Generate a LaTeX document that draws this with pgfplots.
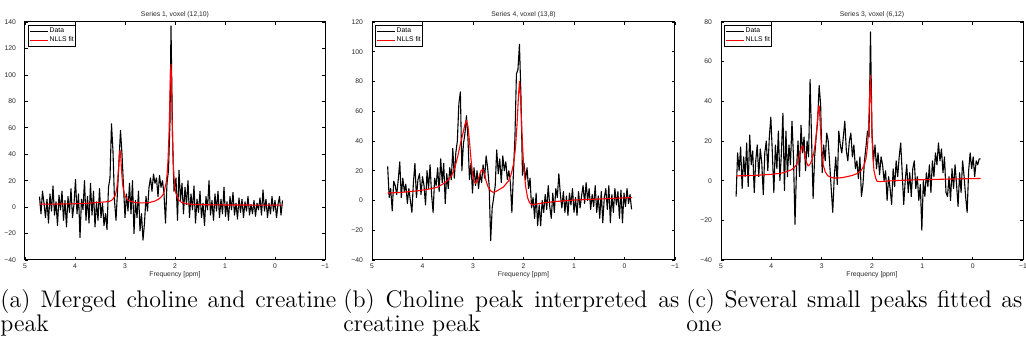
\documentclass[border=0pt]{standalone}
\usepackage{fontspec}
\usepackage{pgfplots}
\pgfplotsset{compat=1.18}
\newfontfamily\sansf{Liberation Sans}
\newcommand\tinyf{\sansf\fontsize{3.4}{4}\selectfont}
\pgfplotsset{
  mat/.style={
    scale only axis, height=119pt,
    x dir=reverse, xmin=-1, xmax=5, ymin=-40,
    xtick={5,4,3,2,1,0,-1}, xticklabels={5,4,3,2,1,0,−1},
    tick align=inside, major tick length=1.5pt,
    tick style={black, line width=0.35pt},
    axis line style={black, line width=0.5pt},
    ticklabel style={font=\tinyf, text=black!85},
    xticklabel style={inner sep=0pt, yshift=-1.9pt},
    yticklabel style={xshift=-1pt},
    every axis title/.style={at={(0.5,1)}, anchor=base, yshift=2.7pt, font=\tinyf, text=black!85, inner sep=0.3pt},
    every axis x label/.style={at={(0.5,0)}, anchor=base, yshift=-8.5pt, font=\tinyf, text=black!85, inner sep=0.2pt},
    xlabel={Frequency [ppm]},
    legend cell align=left,
    legend style={at={(0,1)}, anchor=north west, xshift=1.5pt, yshift=-1.5pt, font=\tinyf, draw=black, line width=0.7pt, inner sep=0.5pt, nodes={inner sep=0.45pt}, row sep=-0.3pt},
    legend image code/.code={\draw[#1] (0pt,0pt) -- (9pt,0pt);},
  },
  dat/.style={black, line width=0.55pt, line join=round, mark=none},
  fitc/.style={red, line width=0.55pt, line join=round, mark=none},
}
\begin{document}
\begin{tikzpicture}
\useasboundingbox (0,0) rectangle (513pt,173.5pt);
\clip (0,0) rectangle (513pt,173.5pt);
% ---------- panel (a)
\begin{axis}[mat, at={(12.5pt,43.5pt)}, anchor=south west, width=150pt, ymax=140,
  ytick={-40,-20,...,140}, yticklabels={−40,−20,0,20,40,60,80,100,120,140},
  title={Series 1, voxel (12,10)}]
\addplot[dat] coordinates {(4.71,8)(4.68,-5)(4.65,12)(4.62,3)(4.59,-8)(4.56,6)(4.53,-12)(4.50,10)(4.47,-3)(4.44,16)(4.41,-6)(4.38,4)(4.35,-14)(4.32,9)(4.29,-2)(4.26,12)(4.23,-10)(4.20,5)(4.17,-15)(4.14,8)(4.11,-4)(4.08,14)(4.05,-8)(4.02,2)(3.99,21)(3.96,-5)(3.93,10)(3.90,-23)(3.87,6)(3.84,-2)(3.81,20)(3.78,-10)(3.75,8)(3.72,-12)(3.69,18)(3.66,-6)(3.63,12)(3.60,-15)(3.57,4)(3.54,-10)(3.51,14)(3.48,-8)(3.45,3)(3.42,-14)(3.39,-5)(3.36,-17)(3.33,15)(3.30,22)(3.27,63)(3.24,42)(3.21,5)(3.18,-10)(3.15,12)(3.12,35)(3.09,58)(3.06,40)(3.03,16)(3.00,-8)(2.97,10)(2.94,-3)(2.91,18)(2.88,-5)(2.85,20)(2.82,-20)(2.79,5)(2.76,-8)(2.73,12)(2.70,-18)(2.67,-5)(2.64,-25)(2.61,-12)(2.58,8)(2.55,-3)(2.52,15)(2.49,22)(2.46,12)(2.43,25)(2.40,18)(2.37,22)(2.34,8)(2.31,24)(2.28,15)(2.25,20)(2.22,10)(2.19,-12)(2.16,18)(2.13,28)(2.10,65)(2.08,137)(2.05,55)(2.02,12)(1.98,22)(1.95,-10)(1.92,28)(1.89,5)(1.86,18)(1.83,-5)(1.80,15)(1.77,2)(1.74,20)(1.71,-8)(1.68,10)(1.65,-2)(1.62,16)(1.59,-12)(1.56,6)(1.53,-4)(1.50,12)(1.47,-8)(1.44,3)(1.41,-14)(1.38,8)(1.35,-2)(1.32,20)(1.29,-6)(1.26,5)(1.23,-10)(1.20,10)(1.17,-3)(1.14,12)(1.11,-8)(1.08,6)(1.05,-5)(1.02,15)(0.99,-7)(0.96,4)(0.93,-10)(0.90,8)(0.87,-2)(0.84,11)(0.81,-6)(0.78,3)(0.75,-9)(0.72,7)(0.69,-4)(0.66,6)(0.63,-8)(0.60,4)(0.57,-3)(0.54,8)(0.51,-6)(0.48,2)(0.45,-5)(0.42,5)(0.39,-7)(0.36,3)(0.33,-2)(0.30,7)(0.27,-6)(0.24,13)(0.21,-3)(0.18,6)(0.15,-8)(0.12,3)(0.09,-5)(0.06,8)(0.03,-3)(0.00,5)(-0.03,-8)(-0.06,2)(-0.09,8)(-0.12,-6)(-0.15,5)};
\addlegendentry{Data}
\addplot[fitc] coordinates {(4.71,2.2)(4.4,2.3)(4.0,2.5)(3.7,3)(3.55,3.5)(3.45,3.8)(3.35,4.1)(3.30,4.5)(3.25,5.6)(3.20,8.5)(3.18,11)(3.16,15.3)(3.15,18.6)(3.14,23)(3.13,28.6)(3.12,35)(3.11,40.6)(3.10,43)(3.09,40.6)(3.08,35)(3.07,28.6)(3.06,23)(3.05,18.6)(3.04,15.3)(3.02,11)(3.00,8.5)(2.95,5.6)(2.90,4.5)(2.80,3.5)(2.70,3.2)(2.60,3.2)(2.50,3.6)(2.40,4.6)(2.33,6)(2.28,7.5)(2.23,10)(2.18,17.5)(2.16,24)(2.14,35)(2.12,55)(2.11,70)(2.10,87)(2.09,101)(2.08,108)(2.07,96)(2.06,74)(2.05,54)(2.04,39)(2.03,29)(2.02,22.5)(2.00,14.5)(1.98,10.2)(1.93,5.5)(1.88,3.8)(1.78,2.5)(1.6,1.9)(1.0,1.6)(-0.15,1.5)};
\addlegendentry{NLLS fit}
\end{axis}
% ---------- panel (b)
\begin{axis}[mat, at={(186pt,43.5pt)}, anchor=south west, width=151.5pt, ymax=120,
  ytick={-40,-20,...,120}, yticklabels={−40,−20,0,20,40,60,80,100,120},
  title={Series 4, voxel (13,8)}]
\addplot[dat] coordinates {(4.69,23)(4.66,2)(4.63,8)(4.60,-7)(4.57,13)(4.54,10)(4.51,4)(4.48,14)(4.45,26)(4.42,2)(4.39,15)(4.36,6)(4.33,11)(4.30,-2)(4.27,8)(4.24,0)(4.21,-8)(4.18,12)(4.15,25)(4.12,2)(4.09,14)(4.06,18)(4.03,4)(4.00,16)(3.97,10)(3.94,-3)(3.91,20)(3.88,8)(3.85,24)(3.82,4)(3.79,-8)(3.76,15)(3.73,10)(3.70,22)(3.67,6)(3.64,28)(3.61,12)(3.58,25)(3.55,-2)(3.52,18)(3.49,8)(3.46,22)(3.43,14)(3.40,35)(3.37,15)(3.34,32)(3.31,40)(3.28,65)(3.25,73)(3.22,20)(3.19,38)(3.16,45)(3.13,57)(3.10,42)(3.07,14)(3.04,25)(3.01,5)(2.98,22)(2.95,10)(2.92,20)(2.89,8)(2.86,18)(2.83,12)(2.80,24)(2.77,15)(2.74,30)(2.71,22)(2.68,10)(2.65,-27)(2.62,-5)(2.59,2)(2.56,10)(2.53,34)(2.50,18)(2.47,28)(2.44,12)(2.41,30)(2.38,20)(2.35,26)(2.32,14)(2.29,20)(2.26,12)(2.23,-8)(2.20,18)(2.17,42)(2.14,85)(2.11,88)(2.08,105)(2.05,70)(2.02,17)(1.99,25)(1.96,14)(1.93,22)(1.90,8)(1.87,15)(1.84,-5)(1.81,2)(1.78,-12)(1.75,5)(1.72,-17)(1.69,-3)(1.66,-17)(1.63,0)(1.60,-8)(1.57,4)(1.54,-6)(1.51,10)(1.48,-4)(1.45,-12)(1.42,5)(1.39,-8)(1.36,8)(1.33,2)(1.30,18)(1.27,4)(1.24,-5)(1.21,6)(1.18,-8)(1.15,3)(1.12,-10)(1.09,5)(1.06,-3)(1.03,8)(1.00,-8)(0.97,2)(0.94,-10)(0.91,6)(0.88,-5)(0.85,3)(0.82,10)(0.79,-2)(0.76,12)(0.73,0)(0.70,8)(0.67,-6)(0.64,4)(0.61,-4)(0.58,10)(0.55,-8)(0.52,3)(0.49,-12)(0.46,6)(0.43,-15)(0.40,2)(0.37,8)(0.34,-6)(0.31,10)(0.28,-15)(0.25,4)(0.22,-8)(0.19,8)(0.16,-3)(0.13,6)(0.10,-12)(0.07,7)(0.04,-15)(0.01,5)(-0.02,-4)(-0.05,8)(-0.08,-2)(-0.11,4)(-0.14,-6)};
\addlegendentry{Data}
\addplot[fitc] coordinates {(4.69,5)(4.4,5.5)(4.1,6.5)(3.9,7.5)(3.7,9)(3.6,11)(3.5,13.5)(3.42,17)(3.36,22)(3.3,30)(3.25,38)(3.2,45)(3.16,51)(3.13,54)(3.10,50)(3.07,40)(3.04,28)(3.01,18)(2.98,13)(2.95,11.5)(2.92,13)(2.88,16)(2.84,20)(2.81,21)(2.78,19)(2.74,13)(2.70,9)(2.65,6.5)(2.60,5.5)(2.55,6)(2.5,7)(2.4,9)(2.3,13)(2.25,17)(2.2,24)(2.16,35)(2.13,50)(2.10,70)(2.08,80)(2.06,70)(2.03,45)(2.0,25)(1.96,10)(1.92,2)(1.88,-1.5)(1.83,-3)(1.75,-2.5)(1.6,-1.5)(1.3,-0.5)(1.0,0.3)(0.5,1)(-0.15,2)};
\addlegendentry{NLLS fit}
\end{axis}
% ---------- panel (c)
\begin{axis}[mat, at={(360.5pt,43.5pt)}, anchor=south west, width=151pt, ymax=80,
  ytick={-40,-20,...,80}, yticklabels={−40,−20,0,20,40,60,80},
  title={Series 3, voxel (6,12)}]
\addplot[dat] coordinates {(4.70,-8)(4.67,14)(4.64,5)(4.61,17)(4.58,-4)(4.55,12)(4.52,2)(4.49,19)(4.46,-3)(4.43,23)(4.40,8)(4.37,15)(4.34,-6)(4.31,10)(4.28,18)(4.25,2)(4.22,16)(4.19,9)(4.16,-7)(4.13,14)(4.10,20)(4.07,5)(4.04,22)(4.01,32)(3.98,14)(3.95,-6)(3.92,18)(3.89,6)(3.86,25)(3.83,0)(3.80,14)(3.77,34)(3.74,-5)(3.71,25)(3.68,2)(3.65,18)(3.62,8)(3.59,30)(3.56,12)(3.53,-22)(3.50,6)(3.47,20)(3.44,2)(3.41,28)(3.38,14)(3.35,22)(3.32,5)(3.29,20)(3.26,12)(3.23,51)(3.20,20)(3.17,-9)(3.14,12)(3.11,22)(3.08,30)(3.05,48)(3.02,38)(2.99,4)(2.96,18)(2.93,10)(2.90,24)(2.87,20)(2.84,8)(2.81,-4)(2.78,-16)(2.75,2)(2.72,12)(2.69,-2)(2.66,25)(2.63,18)(2.60,14)(2.57,22)(2.54,30)(2.51,15)(2.48,10)(2.45,20)(2.42,24)(2.39,12)(2.36,18)(2.33,6)(2.30,10)(2.27,1)(2.24,12)(2.21,-8)(2.18,-2)(2.15,10)(2.12,17)(2.09,25)(2.06,22)(2.03,75)(2.00,24)(1.97,10)(1.94,18)(1.91,6)(1.88,14)(1.85,3)(1.82,12)(1.79,8)(1.76,0)(1.73,5)(1.70,-10)(1.67,2)(1.64,-4)(1.61,-12)(1.58,6)(1.55,-3)(1.52,10)(1.49,2)(1.46,12)(1.43,19)(1.40,4)(1.37,-12)(1.34,0)(1.31,8)(1.28,-6)(1.25,4)(1.22,-8)(1.19,6)(1.16,10)(1.13,-4)(1.10,2)(1.07,-10)(1.04,-2)(1.01,-25)(0.98,0)(0.95,-8)(0.92,4)(0.89,-3)(0.86,8)(0.83,-6)(0.80,10)(0.77,2)(0.74,14)(0.71,8)(0.68,19)(0.65,10)(0.62,16)(0.59,4)(0.56,12)(0.53,-6)(0.50,-8)(0.47,2)(0.44,-10)(0.41,6)(0.38,-4)(0.35,8)(0.32,-2)(0.29,-13)(0.26,4)(0.23,-6)(0.20,10)(0.17,2)(0.14,-8)(0.11,-16)(0.08,5)(0.05,14)(0.02,6)(-0.01,12)(-0.04,2)(-0.07,10)(-0.10,8)(-0.13,11)(-0.16,11)};
\addlegendentry{Data}
\addplot[fitc] coordinates {(4.70,2.4)(4.3,2.7)(4.0,3.2)(3.8,3.8)(3.7,4.5)(3.6,5.5)(3.55,6.5)(3.5,8)(3.46,10.5)(3.43,13.5)(3.40,17)(3.38,17.5)(3.36,16)(3.33,12)(3.30,9)(3.27,7.5)(3.24,8)(3.20,10)(3.16,13.5)(3.13,18)(3.10,25)(3.08,32)(3.06,37.5)(3.05,37.7)(3.04,34)(3.02,24)(3.00,15)(2.97,8)(2.93,4.5)(2.88,2.5)(2.80,1.5)(2.70,1.3)(2.6,1.5)(2.5,2)(2.4,2.6)(2.3,3.5)(2.22,5)(2.16,7.5)(2.12,11)(2.09,17)(2.07,26)(2.05,40)(2.04,48)(2.03,53)(2.02,46)(2.01,34)(2.00,22)(1.98,11)(1.96,5)(1.93,1.5)(1.90,-0.3)(1.85,-0.5)(1.7,-0.2)(1.3,0.3)(0.8,0.6)(0.3,0.9)(-0.16,1.1)};
\addlegendentry{NLLS fit}
\end{axis}
% ---------- captions
\begin{scope}[every node/.style={anchor=base west, inner sep=0pt, font=\fontsize{12}{14}\selectfont}]
\node at (0pt,19.5pt) {\makebox[168pt][s]{(a) Merged choline and creatine}};
\node at (0pt,7.5pt) {peak};
\node at (171.5pt,19.5pt) {\makebox[168pt][s]{(b) Choline peak interpreted as}};
\node at (171.5pt,7.5pt) {creatine peak};
\node at (343pt,19.5pt) {\makebox[168pt][s]{(c) Several small peaks fitted as}};
\node at (343pt,7.5pt) {one};
\end{scope}
\end{tikzpicture}
\end{document}
